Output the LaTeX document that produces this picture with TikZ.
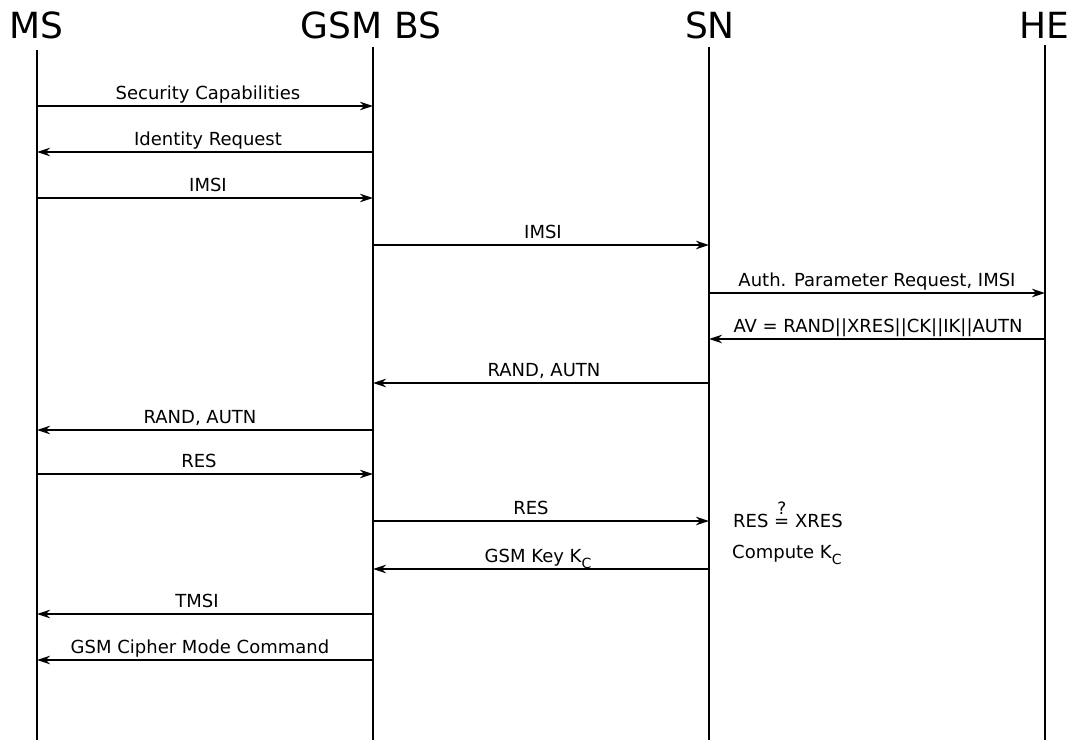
\documentclass[tikz,border=0pt]{standalone}
\usepackage{fontspec}
\setmainfont{DejaVu Sans}
\usetikzlibrary{arrows.meta}
\newcommand{\myKc}{K\raisebox{-6pt}{\fontsize{14}{14}\selectfont C}}
\newcommand{\myqeq}{\ooalign{=\cr\hfil\raisebox{12.5pt}{\fontsize{17}{17}\selectfont ?}\hfil\cr}}
\begin{document}
\begin{tikzpicture}[x=1pt,y=-1pt,
  life/.style={line width=1.7pt},
  msg/.style={line width=1.7pt,-{Stealth[length=13pt,width=8.5pt,inset=4pt]}},
  head/.style={font=\fontsize{36}{40}\selectfont,anchor=base,inner sep=0pt},
  lbl/.style={font=\fontsize{18}{20}\selectfont,anchor=base,inner sep=0pt},
  note/.style={font=\fontsize{18}{20}\selectfont,anchor=base west,inner sep=0pt}]
\useasboundingbox (0,0) rectangle (1073,740);
% headers
\node[head] (hMS) at (36,38) {MS};
\node[head] (hBS) at (371,38) {GSM BS};
\node[head] (hSN) at (710,38) {SN};
\node[head] (hHE) at (1044,38) {HE};
% lifelines
\coordinate (msT) at (37,50);   \coordinate (msB) at (37,740);
\coordinate (bsT) at (373,47);  \coordinate (bsB) at (373,740);
\coordinate (snT) at (709,47);  \coordinate (snB) at (709,740);
\coordinate (heT) at (1045,45); \coordinate (heB) at (1045,740);
\draw[life] (msT) -- (msB);
\draw[life] (bsT) -- (bsB);
\draw[life] (snT) -- (snB);
\draw[life] (heT) -- (heB);
% message end points
\foreach \n/\y in {1/106,2/152,3/198,4/245,5/293,6/339,7/383,8/430,9/474,10/521,11/569,12/614,13/660}{
  \coordinate (ms\n) at (37,\y);
  \coordinate (bs\n) at (373,\y);
  \coordinate (sn\n) at (709,\y);
  \coordinate (he\n) at (1045,\y);
}
% messages
\draw[msg] (ms1) -- (bs1);   \node[lbl] (l1) at (208,99) {Security Capabilities};
\draw[msg] (bs2) -- (ms2);   \node[lbl] (l2) at (208,145) {Identity Request};
\draw[msg] (ms3) -- (bs3);   \node[lbl] (l3) at (208,191) {IMSI};
\draw[msg] (bs4) -- (sn4);   \node[lbl] (l4) at (543,238) {IMSI};
\draw[msg] (sn5) -- (he5);   \node[lbl] (l5) at (877,286) {Auth. Parameter Request, IMSI};
\draw[msg] (he6) -- (sn6);   \node[lbl] (l6) at (878,332) {AV = RAND||XRES||CK||IK||AUTN};
\draw[msg] (sn7) -- (bs7);   \node[lbl] (l7) at (544,376) {RAND, AUTN};
\draw[msg] (bs8) -- (ms8);   \node[lbl] (l8) at (200,423) {RAND, AUTN};
\draw[msg] (ms9) -- (bs9);   \node[lbl] (l9) at (199,467) {RES};
\draw[msg] (bs10) -- (sn10); \node[lbl] (l10) at (531,514) {RES};
\draw[msg] (sn11) -- (bs11); \node[lbl] (l11) at (538,562) {GSM Key \myKc};
\draw[msg] (bs12) -- (ms12); \node[lbl] (l12) at (197,607) {TMSI};
\draw[msg] (bs13) -- (ms13); \node[lbl] (l13) at (200,653) {GSM Cipher Mode Command};
% notes
\node[note] (n1) at (733,527) {RES \myqeq{} XRES};
\node[note] (n2) at (732,558) {Compute \myKc};
\end{tikzpicture}
\end{document}
